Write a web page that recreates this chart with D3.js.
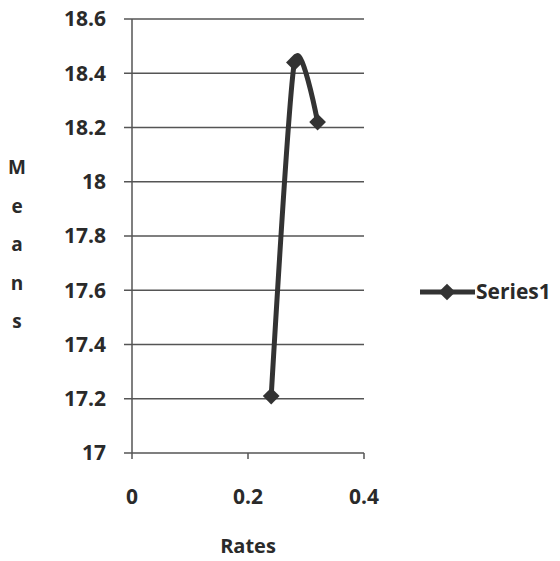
<!DOCTYPE html>
<html><head><meta charset="utf-8">
<script src="https://cdn.jsdelivr.net/npm/d3@7"></script>
<style>body{margin:0;background:#fff}text{font-family:"Open Sans",sans-serif;fill:#2a2a2a;font-weight:700}</style>
</head><body><svg id="c" width="560" height="561"></svg>
<script>
const rates = [0.24, 0.28, 0.32];
const means = [17.21, 18.44, 18.22];
const yTicks = [17, 17.2, 17.4, 17.6, 17.8, 18, 18.2, 18.4, 18.6];
const xTicks = [0, 0.2, 0.4];
const seriesName = "Series1";
const yTitle = "Means";
const xTitle = "Rates";

const svg = d3.select("#c");
const x = d3.scaleLinear().domain([0, 0.4]).range([132, 364]);
const y = d3.scaleLinear().domain([17, 18.6]).range([453, 19]);
const ink = "#333";

// gridlines
svg.append("g").selectAll("line").data(yTicks).join("line")
  .attr("x1", 124).attr("x2", 364).attr("y1", d => y(d)).attr("y2", d => y(d))
  .attr("stroke", "#555").attr("stroke-width", 1.5);
// y axis
svg.append("line").attr("x1", 132).attr("x2", 132).attr("y1", 19).attr("y2", 453)
  .attr("stroke", "#555").attr("stroke-width", 1.5);
// x ticks
svg.append("g").selectAll("line").data(xTicks).join("line")
  .attr("x1", d => x(d)).attr("x2", d => x(d)).attr("y1", 453).attr("y2", 459)
  .attr("stroke", "#555").attr("stroke-width", 1.5);
// y labels
svg.append("g").selectAll("text").data(yTicks).join("text")
  .attr("x", 106).attr("y", d => y(d)).attr("dy", "0.35em").attr("text-anchor", "end")
  .attr("font-size", 21).text(d => d3.format("")(d));
// x labels
svg.append("g").selectAll("text").data(xTicks).join("text")
  .attr("x", d => x(d)).attr("y", 504).attr("text-anchor", "middle")
  .attr("font-size", 21).text(d => d);
// x title
svg.append("text").attr("x", 248).attr("y", 553).attr("text-anchor", "middle")
  .attr("font-size", 20).text(xTitle);
// y title stacked
svg.append("g").selectAll("text").data(yTitle.split("")).join("text")
  .attr("x", 17).attr("y", (d, i) => 174 + i * 38.5).attr("text-anchor", "middle")
  .attr("font-size", 19).text(d => d);

// series line
const pts = rates.map((r, i) => [r, means[i]]);
svg.append("path").datum(pts)
  .attr("d", d3.line().x(d => x(d[0])).y(d => y(d[1])).curve(d3.curveCardinal.tension(0.3)))
  .attr("fill", "none").attr("stroke", ink).attr("stroke-width", 5);
svg.append("g").selectAll("path").data(pts).join("path")
  .attr("d", d3.symbol().type(d3.symbolSquare).size(140))
  .attr("transform", d => `translate(${x(d[0])},${y(d[1])}) rotate(45)`)
  .attr("fill", ink);

// legend
svg.append("line").attr("x1", 420).attr("x2", 475).attr("y1", 292).attr("y2", 292)
  .attr("stroke", ink).attr("stroke-width", 5);
svg.append("path").attr("transform", "translate(447,292) rotate(45)")
  .attr("d", d3.symbol().type(d3.symbolSquare).size(140)).attr("fill", ink);
svg.append("text").attr("x", 476).attr("y", 292).attr("dy", "0.35em")
  .attr("font-size", 21).text(seriesName);
</script></body></html>
